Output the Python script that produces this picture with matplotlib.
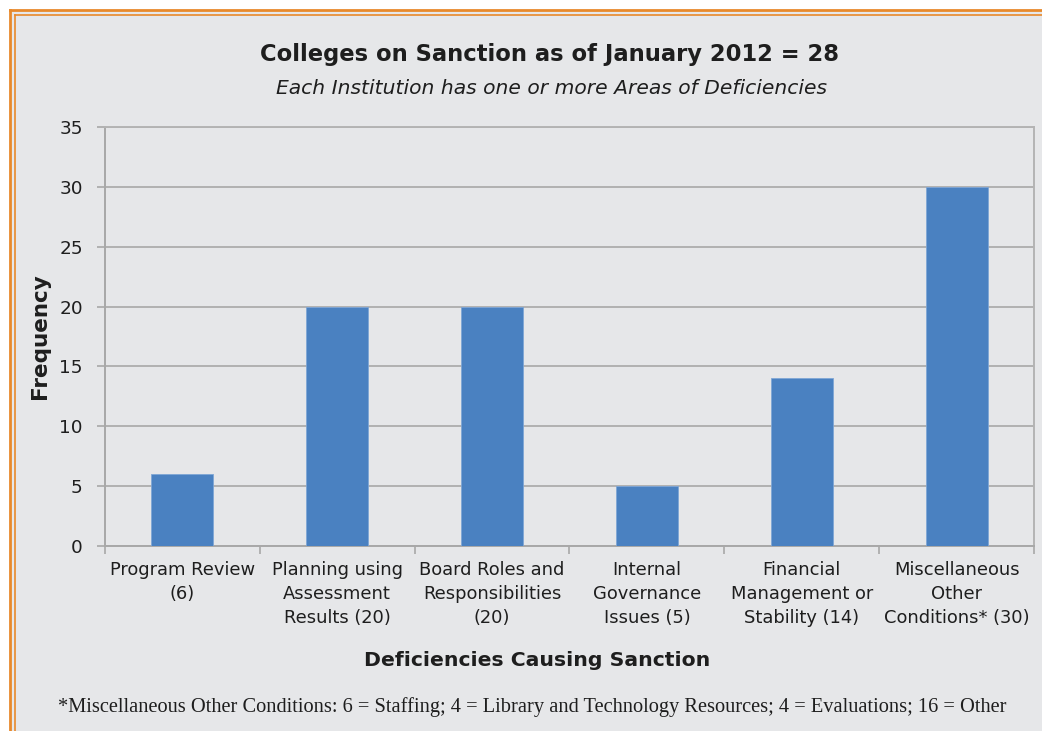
import matplotlib
matplotlib.use("Agg")
import matplotlib.pyplot as plt
from matplotlib.patches import Rectangle

categories = ["Program Review\n(6)", "Planning using\nAssessment\nResults (20)",
              "Board Roles and\nResponsibilities\n(20)", "Internal\nGovernance\nIssues (5)",
              "Financial\nManagement or\nStability (14)", "Miscellaneous\nOther\nConditions* (30)"]
values = [6, 20, 20, 5, 14, 30]
yticks = [0, 5, 10, 15, 20, 25, 30, 35]

title = "Colleges on Sanction as of January 2012 = 28"
subtitle = "Each Institution has one or more Areas of Deficiencies"
xlabel = "Deficiencies Causing Sanction"
ylabel = "Frequency"
footnote = ("*Miscellaneous Other Conditions: 6 = Staffing; 4 = Library and Technology Resources; "
            "4 = Evaluations; 16 = Other")

bg = "#E6E7E9"
bar_color = "#4A81C1"
grid_color = "#A8A8A8"
text_color = "#1E1E1E"

W, H = 1042, 731
fig = plt.figure(figsize=(W / 100, H / 100), dpi=100, facecolor=bg)

# white margin above/left of the orange double border
fig.add_artist(Rectangle((0, 1 - 10 / H), 1, 10 / H, transform=fig.transFigure,
                         facecolor="white", edgecolor="none", zorder=-5))
fig.add_artist(Rectangle((0, 0), 10 / W, 1, transform=fig.transFigure,
                         facecolor="white", edgecolor="none", zorder=-5))
for off, lw in [(10, 2.0), (15, 1.2)]:
    fig.add_artist(plt.Line2D([off / W, 1.0], [1 - off / H, 1 - off / H],
                              transform=fig.transFigure, color="#E8892B", lw=lw))
    fig.add_artist(plt.Line2D([off / W, off / W], [0, 1 - off / H],
                              transform=fig.transFigure, color="#E8892B", lw=lw))

left, right, top, bottom = 105, 1034, 127, 546
ax = fig.add_axes([left / W, 1 - bottom / H, (right - left) / W, (bottom - top) / H])
ax.set_facecolor(bg)

x = list(range(len(values)))
ax.bar(x, values, width=0.4, color=bar_color, edgecolor="#7FA6D6", linewidth=0.6, zorder=3)
ax.set_xlim(-0.5, len(values) - 0.5)
ax.set_ylim(0, 35)
ax.set_yticks(yticks)
ax.set_yticklabels([str(t) for t in yticks], fontsize=13.3, color=text_color)
ax.yaxis.grid(True, color=grid_color, lw=1.2, zorder=1)
ax.set_axisbelow(True)

ax.set_xticks(x)
ax.set_xticklabels(categories, fontsize=12.9, color=text_color, linespacing=1.42)
ax.set_xticks([i - 0.5 for i in range(len(values) + 1)], minor=True)
ax.tick_params(axis="x", which="major", length=0, pad=11)
ax.tick_params(axis="x", which="minor", length=6, width=1.2, color=grid_color)
ax.tick_params(axis="y", length=6, width=1.2, color=grid_color, pad=10)

for s in ax.spines.values():
    s.set_color("#B4B4B4")
    s.set_linewidth(1.4)
ax.spines["left"].set_color(grid_color)
ax.spines["bottom"].set_color(grid_color)

fig.text(550 / W, 1 - 55 / H, title, ha="center", va="center", fontsize=16.3,
         fontweight="bold", color=text_color)
fig.text(552 / W, 1 - 89 / H, subtitle, ha="center", va="center", fontsize=14.6,
         style="italic", color=text_color)
fig.text(40 / W, 1 - 336 / H, ylabel, ha="center", va="center", rotation=90,
         fontsize=15.5, fontweight="bold", color=text_color)
fig.text(537 / W, 1 - 660 / H, xlabel, ha="center", va="center", fontsize=14.7,
         fontweight="bold", color=text_color)
fig.text(532 / W, 1 - 707 / H, footnote, ha="center", va="center", fontsize=14.7,
         family="Liberation Serif", color=text_color)

fig.savefig("out.png", dpi=100, facecolor=bg)
